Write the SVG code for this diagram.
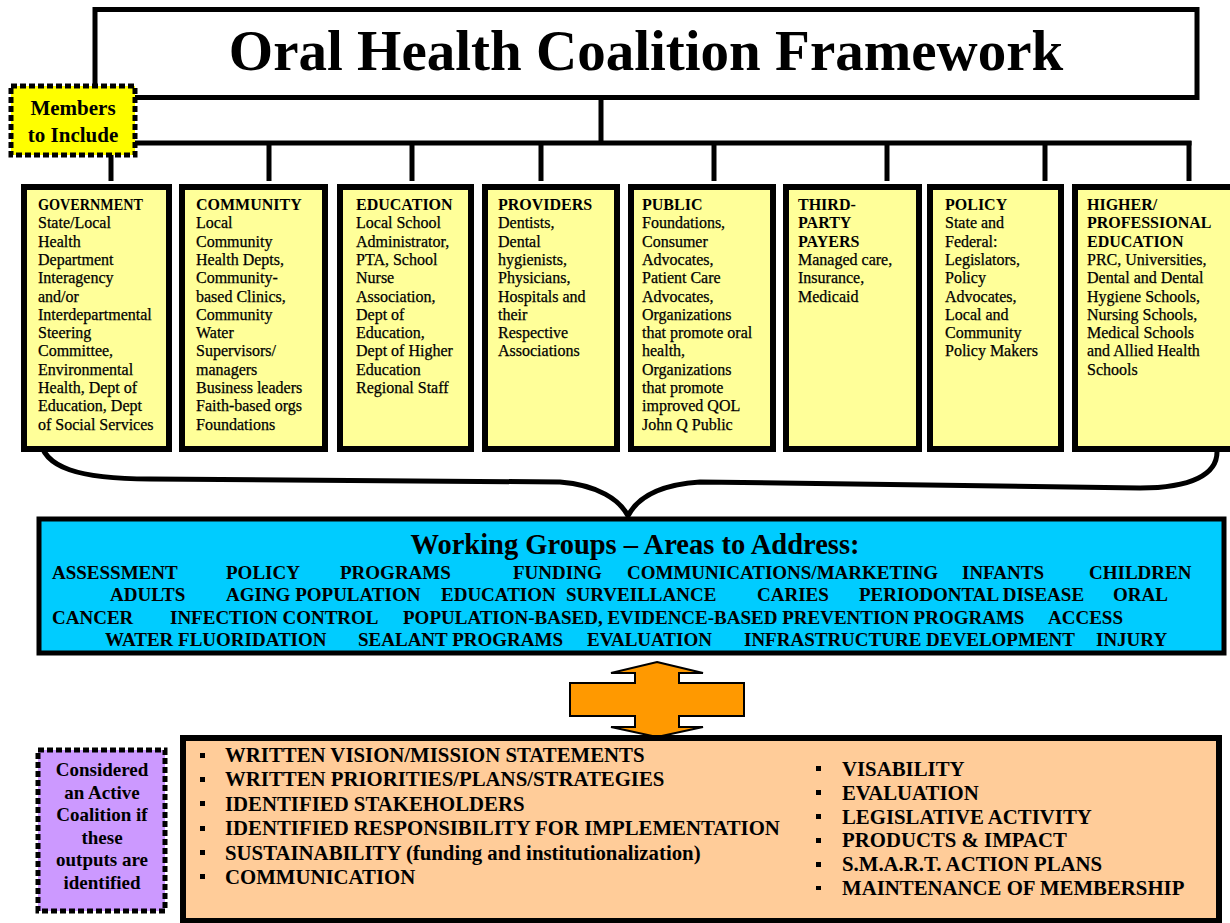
<svg xmlns="http://www.w3.org/2000/svg" width="1230" height="923" viewBox="0 0 1230 923">
<style>
.ser{font-family:"Liberation Serif","Times New Roman",serif;}
.box{fill:#ffff99;stroke:#000;stroke-width:6;}
.hd{font-family:"Liberation Serif","Times New Roman",serif;font-size:16px;font-weight:bold;fill:#000;}
.bd{font-family:"Liberation Serif","Times New Roman",serif;font-size:16px;fill:#000;stroke:#000;stroke-width:0.25;}
.wg{font-family:"Liberation Serif","Times New Roman",serif;font-size:19px;font-weight:bold;fill:#000;}
.bl{font-family:"Liberation Serif","Times New Roman",serif;font-size:20.8px;font-weight:bold;fill:#000;}
.conn{stroke:#000;stroke-width:5;fill:none;}
.bul{fill:#000;}
</style>
<rect width="1230" height="923" fill="#ffffff"/>

<g id="connectors">
  <line class="conn" x1="601" y1="100" x2="601" y2="143"/>
  <line class="conn" x1="130" y1="143" x2="1191.5" y2="143"/>
  <line class="conn" x1="111" y1="150" x2="111" y2="181"/>
  <line class="conn" x1="269" y1="141" x2="269" y2="181"/>
  <line class="conn" x1="412" y1="141" x2="412" y2="181"/>
  <line class="conn" x1="541" y1="141" x2="541" y2="181"/>
  <line class="conn" x1="714" y1="141" x2="714" y2="181"/>
  <line class="conn" x1="887" y1="141" x2="887" y2="181"/>
  <line class="conn" x1="1045" y1="141" x2="1045" y2="181"/>
  <line class="conn" x1="1189" y1="141" x2="1189" y2="181"/>
  <path class="conn" d="M40,438 C42,468 80,479 150,479 L560,482 C598,485 620,500 628,516 C636,500 656,485 700,482 L1140,488 C1192,488 1217,474 1217,452"/>
  <polygon points="657,662 703,673 679,673 679,683 744,683 744,716 679,716 679,727 703,727 657,737 611,727 635,727 635,716 570,716 570,683 635,683 635,673 611,673" fill="#ff9900" stroke="#000" stroke-width="2" stroke-linejoin="miter"/>
</g>

<g id="title">
  <rect x="95" y="9.5" width="1102" height="88" fill="#ffffff" stroke="#000" stroke-width="5"/>
  <text class="ser" x="646" y="70" font-size="57" font-weight="bold" text-anchor="middle">Oral Health Coalition Framework</text>
</g>

<g id="members-label">
  <rect x="11" y="86" width="124" height="69" fill="#ffff00" stroke="#000" stroke-width="5" stroke-dasharray="6,3"/>
  <text class="ser" x="73" y="115" font-size="21" font-weight="bold" text-anchor="middle">Members</text>
  <text class="ser" x="73" y="142" font-size="21" font-weight="bold" text-anchor="middle">to Include</text>
</g>

<g id="government">
  <rect class="box" x="24" y="187" width="145" height="262"/>
  <text class="hd" x="38" y="210" textLength="105" lengthAdjust="spacingAndGlyphs">GOVERNMENT</text>
  <text class="bd"><tspan x="38" y="228.3">State/Local</tspan><tspan x="38" dy="18.3">Health</tspan><tspan x="38" dy="18.3">Department</tspan><tspan x="38" dy="18.3">Interagency</tspan><tspan x="38" dy="18.3">and/or</tspan><tspan x="38" dy="18.3">Interdepartmental</tspan><tspan x="38" dy="18.3">Steering</tspan><tspan x="38" dy="18.3">Committee,</tspan><tspan x="38" dy="18.3">Environmental</tspan><tspan x="38" dy="18.3">Health, Dept of</tspan><tspan x="38" dy="18.3">Education, Dept</tspan><tspan x="38" dy="18.3">of Social Services</tspan></text>
</g>

<g id="community">
  <rect class="box" x="182" y="187" width="143" height="262"/>
  <text class="hd" x="196" y="210">COMMUNITY</text>
  <text class="bd"><tspan x="196" y="228.3">Local</tspan><tspan x="196" dy="18.3">Community</tspan><tspan x="196" dy="18.3">Health Depts,</tspan><tspan x="196" dy="18.3">Community-</tspan><tspan x="196" dy="18.3">based Clinics,</tspan><tspan x="196" dy="18.3">Community</tspan><tspan x="196" dy="18.3">Water</tspan><tspan x="196" dy="18.3">Supervisors/</tspan><tspan x="196" dy="18.3">managers</tspan><tspan x="196" dy="18.3">Business leaders</tspan><tspan x="196" dy="18.3">Faith-based orgs</tspan><tspan x="196" dy="18.3">Foundations</tspan></text>
</g>

<g id="education">
  <rect class="box" x="340" y="187" width="131" height="262"/>
  <text class="hd" x="356" y="210">EDUCATION</text>
  <text class="bd"><tspan x="356" y="228.3">Local School</tspan><tspan x="356" dy="18.3">Administrator,</tspan><tspan x="356" dy="18.3">PTA, School</tspan><tspan x="356" dy="18.3">Nurse</tspan><tspan x="356" dy="18.3">Association,</tspan><tspan x="356" dy="18.3">Dept of</tspan><tspan x="356" dy="18.3">Education,</tspan><tspan x="356" dy="18.3">Dept of Higher</tspan><tspan x="356" dy="18.3">Education</tspan><tspan x="356" dy="18.3">Regional Staff</tspan></text>
</g>

<g id="providers">
  <rect class="box" x="485" y="187" width="132" height="262"/>
  <text class="hd" x="498" y="210">PROVIDERS</text>
  <text class="bd"><tspan x="498" y="228.3">Dentists,</tspan><tspan x="498" dy="18.3">Dental</tspan><tspan x="498" dy="18.3">hygienists,</tspan><tspan x="498" dy="18.3">Physicians,</tspan><tspan x="498" dy="18.3">Hospitals and</tspan><tspan x="498" dy="18.3">their</tspan><tspan x="498" dy="18.3">Respective</tspan><tspan x="498" dy="18.3">Associations</tspan></text>
</g>

<g id="public">
  <rect class="box" x="631" y="187" width="142" height="262"/>
  <text class="hd" x="642" y="210">PUBLIC</text>
  <text class="bd"><tspan x="642" y="228.3">Foundations,</tspan><tspan x="642" dy="18.3">Consumer</tspan><tspan x="642" dy="18.3">Advocates,</tspan><tspan x="642" dy="18.3">Patient Care</tspan><tspan x="642" dy="18.3">Advocates,</tspan><tspan x="642" dy="18.3">Organizations</tspan><tspan x="642" dy="18.3">that promote oral</tspan><tspan x="642" dy="18.3">health,</tspan><tspan x="642" dy="18.3">Organizations</tspan><tspan x="642" dy="18.3">that promote</tspan><tspan x="642" dy="18.3">improved QOL</tspan><tspan x="642" dy="18.3">John Q Public</tspan></text>
</g>

<g id="third-party-payers">
  <rect class="box" x="786" y="187" width="133" height="262"/>
  <text class="hd"><tspan x="798" y="210">THIRD-</tspan><tspan x="798" dy="18.3">PARTY</tspan><tspan x="798" dy="18.3">PAYERS</tspan></text>
  <text class="bd"><tspan x="798" y="264.9">Managed care,</tspan><tspan x="798" dy="18.3">Insurance,</tspan><tspan x="798" dy="18.3">Medicaid</tspan></text>
</g>

<g id="policy">
  <rect class="box" x="930" y="187" width="131" height="262"/>
  <text class="hd" x="945" y="210">POLICY</text>
  <text class="bd"><tspan x="945" y="228.3">State and</tspan><tspan x="945" dy="18.3">Federal:</tspan><tspan x="945" dy="18.3">Legislators,</tspan><tspan x="945" dy="18.3">Policy</tspan><tspan x="945" dy="18.3">Advocates,</tspan><tspan x="945" dy="18.3">Local and</tspan><tspan x="945" dy="18.3">Community</tspan><tspan x="945" dy="18.3">Policy Makers</tspan></text>
</g>

<g id="higher-professional-education">
  <rect class="box" x="1075" y="187" width="160" height="262"/>
  <text class="hd"><tspan x="1087" y="210">HIGHER/</tspan><tspan x="1087" dy="18.3">PROFESSIONAL</tspan><tspan x="1087" dy="18.3">EDUCATION</tspan></text>
  <text class="bd"><tspan x="1087" y="264.9">PRC, Universities,</tspan><tspan x="1087" dy="18.3">Dental and Dental</tspan><tspan x="1087" dy="18.3">Hygiene Schools,</tspan><tspan x="1087" dy="18.3">Nursing Schools,</tspan><tspan x="1087" dy="18.3">Medical Schools</tspan><tspan x="1087" dy="18.3">and Allied Health</tspan><tspan x="1087" dy="18.3">Schools</tspan></text>
</g>

<g id="working-groups">
  <rect x="39" y="519" width="1185" height="134" fill="#00ccff" stroke="#000" stroke-width="5"/>
  <text class="ser" x="635" y="554" font-size="28.5" font-weight="bold" text-anchor="middle">Working Groups – Areas to Address:</text>
  <text class="wg" y="579"><tspan x="52">ASSESSMENT</tspan><tspan x="226">POLICY</tspan><tspan x="340">PROGRAMS</tspan><tspan x="513">FUNDING</tspan><tspan x="627">COMMUNICATIONS/MARKETING</tspan><tspan x="962">INFANTS</tspan><tspan x="1089">CHILDREN</tspan></text>
  <text class="wg" y="601"><tspan x="110">ADULTS</tspan><tspan x="226">AGING POPULATION</tspan><tspan x="441">EDUCATION</tspan><tspan x="566">SURVEILLANCE</tspan><tspan x="757">CARIES</tspan><tspan x="859">PERIODONTAL DISEASE</tspan><tspan x="1113">ORAL</tspan></text>
  <text class="wg" y="624"><tspan x="52">CANCER</tspan><tspan x="170">INFECTION CONTROL</tspan><tspan x="403">POPULATION-BASED, EVIDENCE-BASED PREVENTION PROGRAMS</tspan><tspan x="1048">ACCESS</tspan></text>
  <text class="wg" y="646"><tspan x="105">WATER FLUORIDATION</tspan><tspan x="358">SEALANT PROGRAMS</tspan><tspan x="587">EVALUATION</tspan><tspan x="744">INFRASTRUCTURE DEVELOPMENT</tspan><tspan x="1096">INJURY</tspan></text>
</g>

<g id="active-coalition-label">
  <rect x="38" y="750" width="127" height="161" fill="#cc99ff" stroke="#000" stroke-width="5" stroke-dasharray="6,3"/>
  <text class="ser" font-size="19" font-weight="bold" text-anchor="middle"><tspan x="102" y="776">Considered</tspan><tspan x="102" dy="22.6">an Active</tspan><tspan x="102" dy="22.6">Coalition if</tspan><tspan x="102" dy="22.6">these</tspan><tspan x="102" dy="22.6">outputs are</tspan><tspan x="102" dy="22.6">identified</tspan></text>
</g>

<g id="outputs">
  <rect x="183" y="738" width="1036" height="183" fill="#ffcc99" stroke="#000" stroke-width="6"/>
  <g class="bul">
    <rect x="200" y="753" width="5" height="5"/>
    <rect x="200" y="777" width="5" height="5"/>
    <rect x="200" y="801" width="5" height="5"/>
    <rect x="200" y="826" width="5" height="5"/>
    <rect x="200" y="850" width="5" height="5"/>
    <rect x="200" y="874" width="5" height="5"/>
    <rect x="816" y="766" width="5" height="5"/>
    <rect x="816" y="790" width="5" height="5"/>
    <rect x="816" y="814" width="5" height="5"/>
    <rect x="816" y="838" width="5" height="5"/>
    <rect x="816" y="862" width="5" height="5"/>
    <rect x="816" y="886" width="5" height="4"/>
  </g>
  <text class="bl"><tspan x="225" y="762">WRITTEN VISION/MISSION STATEMENTS</tspan><tspan x="225" dy="24.4">WRITTEN PRIORITIES/PLANS/STRATEGIES</tspan><tspan x="225" dy="24.4">IDENTIFIED STAKEHOLDERS</tspan><tspan x="225" dy="24.4">IDENTIFIED RESPONSIBILITY FOR IMPLEMENTATION</tspan><tspan x="225" dy="24.4">SUSTAINABILITY (funding and institutionalization)</tspan><tspan x="225" dy="24.4">COMMUNICATION</tspan></text>
  <text class="bl"><tspan x="842" y="776">VISABILITY</tspan><tspan x="842" dy="23.8">EVALUATION</tspan><tspan x="842" dy="23.8">LEGISLATIVE ACTIVITY</tspan><tspan x="842" dy="23.8">PRODUCTS &amp; IMPACT</tspan><tspan x="842" dy="23.8">S.M.A.R.T. ACTION PLANS</tspan><tspan x="842" dy="23.8">MAINTENANCE OF MEMBERSHIP</tspan></text>
</g>
</svg>
